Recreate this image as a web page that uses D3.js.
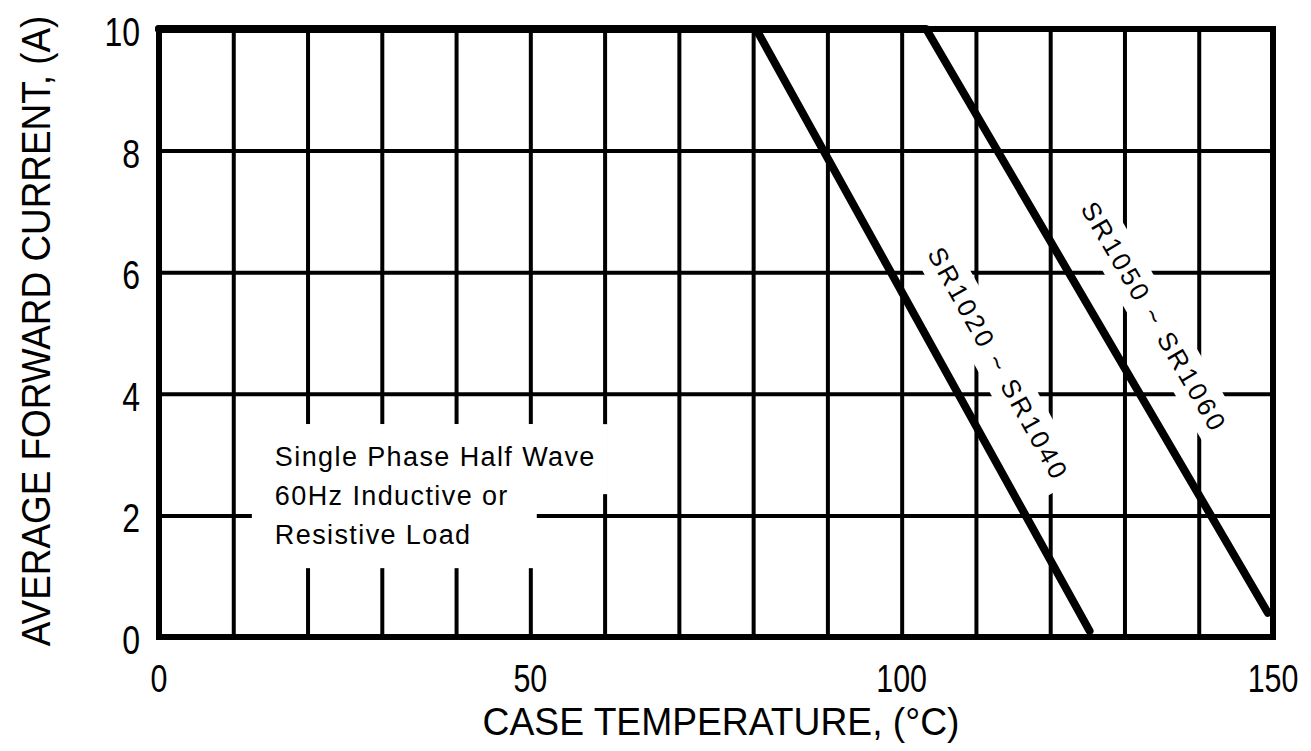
<!DOCTYPE html>
<html>
<head>
<meta charset="utf-8">
<script src="https://cdn.jsdelivr.net/npm/d3@7"></script>
<style>
  body { margin: 0; background: #fff; }
  svg { display: block; }
  text { font-family: "Liberation Sans", Arial, sans-serif; fill: #000; }
</style>
</head>
<body>
<script>
// derating curves
const tempLow = [0, 80.4, 125.3];     // SR1020 ~ SR1040
const ampLow = [10, 10, 0.1];
const tempHigh = [0, 103.3, 149.3];   // SR1050 ~ SR1060
const ampHigh = [10, 10, 0.4];

const xTicks = [0, 50, 100, 150];
const yTicks = [0, 2, 4, 6, 8, 10];
const xGrid = d3.range(0, 151, 10);
const noteLines = ['Single Phase Half Wave', '60Hz Inductive or', 'Resistive Load'];

const width = 1311, height = 751;
const margin = { left: 159, right: 38, top: 29, bottom: 114 };
const pw = width - margin.left - margin.right;
const ph = height - margin.top - margin.bottom;

const x = d3.scaleLinear().domain([0, 150]).range([0, pw]);
const y = d3.scaleLinear().domain([0, 10]).range([ph, 0]);

const svg = d3.select('body').append('svg')
  .attr('width', width).attr('height', height);

const g = svg.append('g')
  .attr('transform', 'translate(' + margin.left + ',' + margin.top + ')');

// grid lines from the axis generators
g.append('g')
  .attr('class', 'grid x')
  .attr('transform', 'translate(0,' + ph + ')')
  .call(d3.axisBottom(x).tickValues(xGrid).tickSize(-ph).tickFormat(''));
g.append('g')
  .attr('class', 'grid y')
  .call(d3.axisLeft(y).tickValues(yTicks).tickSize(-pw).tickFormat(''));
g.selectAll('.grid .domain').remove();
g.selectAll('.grid line').attr('stroke', '#000').attr('stroke-width', 4);

// helper for the narrow scan lettering
function say(parent, txt, px, py, size, anchor, rot, sx) {
  return parent.append('text')
    .attr('transform', 'translate(' + px + ',' + py + ') rotate(' + (rot || 0) + ') scale(' + (sx || 1) + ',1)')
    .attr('text-anchor', anchor)
    .attr('font-size', size)
    .text(txt);
}

// note box in the lower left
const note = g.append('g');
const noteBg = note.append('g');
const noteText = note.append('text')
  .attr('font-size', 27)
  .attr('letter-spacing', 1.4);
noteLines.forEach(function (line, i) {
  noteText.append('tspan')
    .attr('x', x(15.6))
    .attr('y', y(2.81) + i * 39)
    .text(line);
});
const tsp = noteText.selectAll('tspan').nodes().map(function (n) { return n.getBBox(); });
const nb = noteText.node().getBBox();
noteBg.append('rect')
  .attr('x', nb.x - 23).attr('y', nb.y - 18)
  .attr('width', tsp[1].x + tsp[1].width + 28 - (nb.x - 23))
  .attr('height', nb.height + 36)
  .attr('fill', '#fff');
noteBg.append('rect')
  .attr('x', nb.x - 23).attr('y', nb.y - 18)
  .attr('width', tsp[0].width + 35)
  .attr('height', tsp[0].height + 40)
  .attr('fill', '#fff');

// curve labels, rotated along each line
const series = [
  { t: tempLow, a: ampLow, name: 'SR1020 ~ SR1040', at: [113.0, 4.49] },
  { t: tempHigh, a: ampHigh, name: 'SR1050 ~ SR1060', at: [134.0, 5.26] }
];
series.forEach(function (s) {
  const n = s.t.length;
  const dx = x(s.t[n - 1]) - x(s.t[1]);
  const dy = y(s.a[n - 1]) - y(s.a[1]);
  const ang = Math.atan2(dy, dx) * 180 / Math.PI;
  const lg = g.append('g')
    .attr('transform', 'translate(' + x(s.at[0]) + ',' + y(s.at[1]) + ') rotate(' + ang + ')');
  const bg = lg.append('rect').attr('fill', '#fff');
  const t = lg.append('text')
    .attr('text-anchor', 'middle')
    .attr('dy', '0.35em')
    .attr('font-size', 26)
    .attr('letter-spacing', 3)
    .text(s.name);
  const b = t.node().getBBox();
  bg.attr('x', b.x - 8).attr('y', b.y - 6)
    .attr('width', b.width + 16).attr('height', b.height + 12);
});

// derating lines
const line = d3.line()
  .x(function (d) { return x(d[0]); })
  .y(function (d) { return y(d[1]); });
series.forEach(function (s) {
  g.append('path')
    .attr('d', line(s.t.map(function (v, i) { return [v, s.a[i]]; })))
    .attr('fill', 'none')
    .attr('stroke', '#000')
    .attr('stroke-width', 8)
    .attr('stroke-linecap', 'round')
    .attr('stroke-linejoin', 'round');
});

// frame
g.append('rect')
  .attr('width', pw).attr('height', ph)
  .attr('fill', 'none').attr('stroke', '#000').attr('stroke-width', 6);

// tick labels
yTicks.forEach(function (v) {
  say(g, v, -19, y(v) + 17, 40, 'end', 0, 0.8);
});
xTicks.forEach(function (v) {
  say(g, v, x(v), ph + 55, 38, 'middle', 0, 0.8);
});

// axis titles
say(svg, 'CASE TEMPERATURE, (\u00B0C)', margin.left + pw / 2 + 5, 735, 38, 'middle', 0, 0.98);
say(svg, 'AVERAGE FORWARD CURRENT, (A)', 50, 331, 41, 'middle', -90, 0.9);
</script>
</body>
</html>
